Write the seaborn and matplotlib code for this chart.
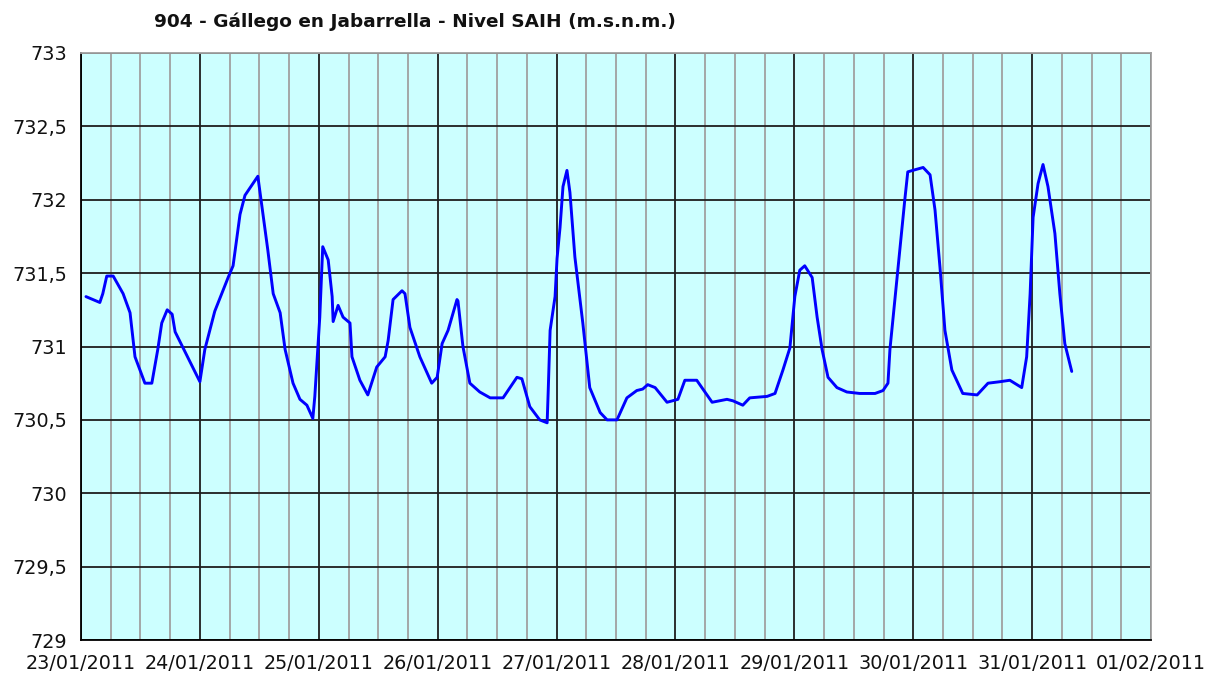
"""Nivel SAIH chart for 904 - Gallego en Jabarrella."""

import matplotlib

matplotlib.use("Agg")

import matplotlib.dates as mdates
import matplotlib.pyplot as plt
import pandas as pd
import seaborn as sns
from matplotlib.ticker import FuncFormatter, MultipleLocator

START = pd.Timestamp("2011-01-23")

# hours after 23/01/2011 00:00
hours = [
    1.0, 3.8, 4.4, 5.2, 6.5, 8.5, 9.9, 10.9, 12.9, 14.3, 15.5, 16.3, 17.4, 18.4, 19.0,
    24.0, 25.0, 27.0, 29.7, 30.7, 32.1, 33.1, 34.5, 35.7, 37.7, 38.8, 40.2, 41.2, 42.8,
    44.2, 45.6, 46.8, 47.2, 47.8, 48.2, 48.8, 49.9, 50.7, 50.9, 51.9, 52.9, 54.3, 54.7,
    56.3, 57.9, 59.7, 61.4, 62.0, 63.0, 64.8, 65.4, 66.4, 68.4, 70.8, 71.9, 72.9, 74.1,
    75.9, 76.1, 77.1, 78.5, 80.5, 82.6, 85.2, 88.0, 89.0, 90.6, 92.6, 94.1, 94.3, 94.7,
    95.7, 96.1, 96.7, 97.3, 98.1, 98.7, 99.7, 101.3, 102.7, 104.8, 106.2, 108.2, 110.2,
    112.2, 113.4, 114.4, 115.9, 118.3, 120.5, 121.9, 124.3, 127.4, 130.4, 131.6, 133.6,
    135.0, 138.5, 140.1, 141.7, 143.1, 144.1, 145.1, 146.1, 147.6, 148.6, 149.6, 150.8,
    152.6, 154.6, 157.2, 160.3, 161.9, 162.9, 163.3, 164.3, 165.3, 166.3, 166.9, 167.9,
    170.0, 171.4, 172.4, 173.4, 174.4, 175.8, 178.0, 180.9, 183.1, 185.5, 187.5, 189.9,
    190.9, 191.6, 192.2, 193.2, 194.2, 195.2, 196.6, 197.6, 198.6, 200.0,
]
level = [
    731.34, 731.30, 731.36, 731.48, 731.48, 731.36, 731.23, 730.93, 730.75, 730.75, 730.98,
    731.16, 731.25, 731.22, 731.10,
    730.76, 730.98, 731.24, 731.47, 731.55, 731.90, 732.03, 732.10, 732.16, 731.66, 731.36,
    731.23, 730.98, 730.75, 730.64, 730.60, 730.51, 730.66, 730.98, 731.20, 731.68, 731.59,
    731.34, 731.17, 731.28, 731.20, 731.16, 730.93, 730.77, 730.67, 730.86, 730.93, 731.04,
    731.32, 731.38, 731.36, 731.13, 730.93, 730.75, 730.79, 731.02, 731.11, 731.32, 731.31,
    731.00, 730.75, 730.69, 730.65, 730.65, 730.79, 730.78, 730.59, 730.50, 730.48, 730.68,
    731.11, 731.34, 731.60, 731.81, 732.09, 732.20, 732.05, 731.61, 731.16, 730.72, 730.55,
    730.50, 730.50, 730.65, 730.70, 730.71, 730.74, 730.72, 730.62, 730.64, 730.77, 730.77,
    730.62, 730.64, 730.63, 730.60, 730.65, 730.66, 730.68, 730.84, 730.99, 731.34, 731.52,
    731.55, 731.47, 731.20, 730.98, 730.79, 730.72, 730.69, 730.68, 730.68, 730.70, 730.75,
    730.98, 731.32, 731.66, 732.00, 732.19, 732.20, 732.22, 732.17, 731.93, 731.54, 731.11,
    730.84, 730.68, 730.67, 730.75, 730.76, 730.77, 730.72, 730.93, 731.36, 731.88, 732.11,
    732.24, 732.09, 731.77, 731.36, 731.02, 730.83,
]

title = "904 - Gállego en Jabarrella - Nivel SAIH (m.s.n.m.)"

df = pd.DataFrame({"fecha": START + pd.to_timedelta(hours, unit="h"), "nivel": level})

sns.set_theme(style="white")
plt.rcParams["font.family"] = ["DejaVu Sans"]

fig = plt.figure(figsize=(12.21, 6.82), dpi=100)
ax = fig.add_axes([81 / 1221, 42 / 682, 1070 / 1221, 587 / 682])
ax.set_facecolor("#CCFFFF")

sns.lineplot(data=df, x="fecha", y="nivel", ax=ax, color="#0000FF", linewidth=2.1)

ax.set_xlim(START, START + pd.Timedelta(days=9))
ax.set_ylim(729, 733)
ax.xaxis.set_major_locator(mdates.DayLocator())
ax.xaxis.set_major_formatter(mdates.DateFormatter("%d/%m/%Y"))
ax.xaxis.set_minor_locator(mdates.HourLocator(byhour=[6, 12, 18]))
ax.yaxis.set_major_locator(MultipleLocator(0.5))
ax.yaxis.set_major_formatter(FuncFormatter(lambda v, _: f"{v:g}".replace(".", ",")))

ax.grid(which="minor", axis="x", color="#A0A0A0", linewidth=1.3)
ax.grid(which="major", axis="x", color="#1E1E1E", linewidth=1.3)
ax.grid(which="major", axis="y", color="#1E1E1E", linewidth=1.3)
ax.set_axisbelow(True)

ax.tick_params(axis="both", which="major", direction="out", length=6, width=1.3,
               color="black", labelsize=13.8, labelcolor="#111111", pad=4)
ax.tick_params(axis="x", which="minor", length=0)
ax.set_xlabel("")
ax.set_ylabel("")

for side in ("left", "bottom"):
    ax.spines[side].set_color("black")
    ax.spines[side].set_linewidth(1.3)
for side in ("top", "right"):
    ax.spines[side].set_color("#A0A0A0")
    ax.spines[side].set_linewidth(1.3)

fig.text(415 / 1221, 1 - 22 / 682, title, ha="center", va="center",
         fontsize=13.3, fontweight="bold", color="#111111")

fig.savefig("out.png", dpi=100)
plt.close(fig)
